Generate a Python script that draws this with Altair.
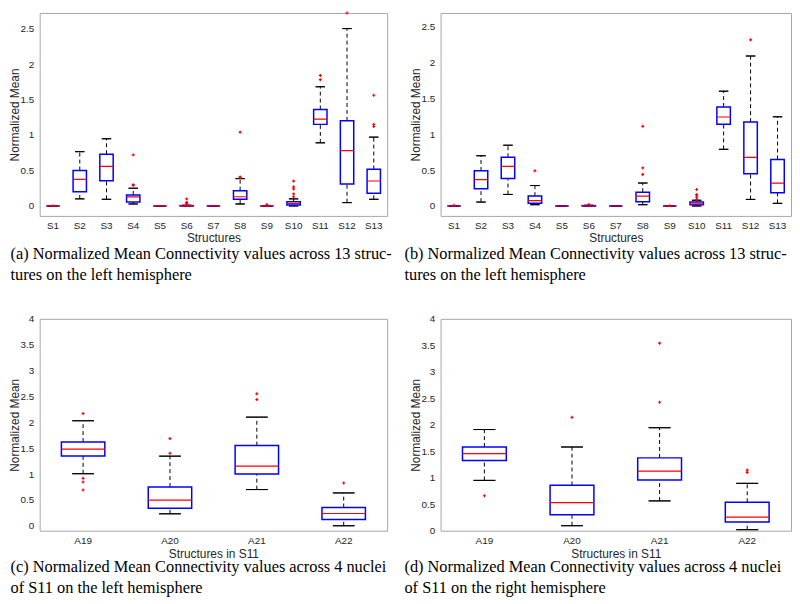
import altair as alt
import pandas as pd

# ---------------- Panel (a): 13 structures, left hemisphere ----------------
a_names = ["S1", "S2", "S3", "S4", "S5", "S6", "S7", "S8", "S9", "S10", "S11", "S12", "S13"]
a_q1 = [0.0, 0.20, 0.356, 0.056, 0.0, 0.0, 0.0, 0.094, 0.0, 0.015, 1.15, 0.31, 0.178]
a_med = [0.0, 0.375, 0.558, 0.127, 0.0, 0.0, 0.0, 0.13, 0.0, 0.035, 1.224, 0.78, 0.352]
a_q3 = [0.0, 0.50, 0.73, 0.155, 0.0, 0.005, 0.0, 0.216, 0.0, 0.06, 1.36, 1.20, 0.516]
a_lo = [0.0, 0.10, 0.094, 0.028, 0.0, 0.0, 0.0, 0.028, 0.0, 0.0, 0.89, 0.047, 0.094]
a_hi = [0.0, 0.765, 0.947, 0.25, 0.0, 0.01, 0.0, 0.385, 0.0, 0.10, 1.68, 2.50, 0.97]
a_out = [[0.005], [], [], [0.72, 0.30, 0.29], [], [0.10, 0.05, 0.04, 0.03], [],
         [1.04, 0.41, 0.40], [0.02], [0.35, 0.27, 0.24, 0.17, 0.13], [1.84, 1.78],
         [2.72], [1.56, 1.15, 1.12]]

# ---------------- Panel (b): 13 structures ----------------
b_names = a_names
b_q1 = [0.0, 0.24, 0.382, 0.037, 0.0, 0.0, 0.0, 0.06, 0.0, 0.018, 1.14, 0.45, 0.184]
b_med = [0.0, 0.368, 0.552, 0.074, 0.0, 0.0, 0.0, 0.138, 0.0, 0.03, 1.24, 0.677, 0.318]
b_q3 = [0.0, 0.49, 0.68, 0.138, 0.0, 0.005, 0.0, 0.193, 0.0, 0.055, 1.38, 1.17, 0.649]
b_lo = [0.0, 0.055, 0.161, 0.018, 0.0, 0.0, 0.0, 0.018, 0.0, 0.0, 0.79, 0.092, 0.037]
b_hi = [0.0, 0.70, 0.847, 0.285, 0.0, 0.01, 0.0, 0.32, 0.0, 0.08, 1.60, 2.09, 1.243]
b_out = [[0.01], [], [], [0.49], [], [0.02], [], [1.11, 0.53, 0.44], [0.005],
         [0.23, 0.16, 0.14, 0.115, 0.09], [], [2.316], []]

# ---------------- Panel (c): 4 nuclei of S11, left hemisphere ----------------
c_names = ["A19", "A20", "A21", "A22"]
c_q1 = [1.35, 0.34, 1.0, 0.122]
c_med = [1.48, 0.494, 1.154, 0.237]
c_q3 = [1.62, 0.75, 1.55, 0.353]
c_lo = [1.006, 0.231, 0.70, 0.0]
c_hi = [2.03, 1.346, 2.10, 0.635]
c_out = [[2.17, 0.917, 0.846, 0.692], [1.686, 1.40], [2.55, 2.44], [0.827]]

# ---------------- Panel (d): 4 nuclei of S11, right hemisphere ----------------
d_names = c_names
d_q1 = [1.325, 0.30, 0.956, 0.1625]
d_med = [1.456, 0.531, 1.125, 0.256]
d_q3 = [1.58, 0.856, 1.375, 0.5375]
d_lo = [0.95, 0.094, 0.5625, 0.019]
d_hi = [1.91, 1.58, 1.944, 0.894]
d_out = [[0.66], [2.14], [3.54, 2.425], [1.144, 1.10]]

y_ticks_ab = [0, 0.5, 1, 1.5, 2, 2.5]
y_ticks_cd = [0, 0.5, 1, 1.5, 2, 2.5, 3, 3.5, 4]

cap_a = ["(a) Normalized Mean Connectivity values across 13 struc-", "tures on the left hemisphere"]
cap_b = ["(b) Normalized Mean Connectivity values across 13 struc-", "tures on the left hemisphere"]
cap_c = ["(c) Normalized Mean Connectivity values across 4 nuclei", "of S11 on the left hemisphere"]
cap_d = ["(d) Normalized Mean Connectivity values across 4 nuclei", "of S11 on the right hemisphere"]

SANS = "Liberation Sans"
SERIF = "Liberation Serif"


def panel(names, q1, med, q3, lo, hi, outs, ydom, yvals, xtitle, caption,
          cap_frac, w, h, cap_offset, cap_dx, xtpad):
    stats = pd.DataFrame(dict(name=names, q1=q1, med=med, q3=q3, lo=lo, hi=hi))
    outdf = pd.DataFrame([(n, v) for n, vs in zip(names, outs) for v in vs],
                         columns=["name", "v"])
    xax = alt.Axis(title=xtitle, labelAngle=0, labelPadding=5, titlePadding=xtpad)
    x = alt.X("name:N", sort=names,
              scale=alt.Scale(paddingInner=0, paddingOuter=0), axis=xax)
    ysc = alt.Scale(domain=ydom, nice=False, zero=False)
    yax = alt.Axis(title="Normalized Mean", values=yvals, format="~g",
                   labelPadding=6, titlePadding=-2)
    base = alt.Chart(stats)
    up = base.mark_rule(color="black", strokeDash=[4, 3], strokeWidth=1).encode(
        x=x, y=alt.Y("q3:Q", scale=ysc, axis=yax), y2="hi:Q")
    dn = base.mark_rule(color="black", strokeDash=[4, 3], strokeWidth=1).encode(
        x=x, y=alt.Y("lo:Q", scale=ysc, axis=yax), y2="q1:Q")
    caphi = base.mark_bar(width=alt.RelativeBandSize(cap_frac), fillOpacity=0,
                          stroke="black", strokeWidth=1).encode(
        x=x, y=alt.Y("hi:Q", scale=ysc, axis=yax), y2="hi:Q")
    caplo = base.mark_bar(width=alt.RelativeBandSize(cap_frac), fillOpacity=0,
                          stroke="black", strokeWidth=1).encode(
        x=x, y=alt.Y("lo:Q", scale=ysc, axis=yax), y2="lo:Q")
    box = base.mark_bar(width=alt.RelativeBandSize(0.5), fillOpacity=0,
                        stroke="#0000ff", strokeWidth=1.5).encode(
        x=x, y=alt.Y("q1:Q", scale=ysc, axis=yax), y2="q3:Q")
    mline = base.mark_bar(width=alt.RelativeBandSize(0.5), fillOpacity=0,
                          stroke="#ff0000", strokeWidth=1.2).encode(
        x=x, y=alt.Y("med:Q", scale=ysc, axis=yax), y2="med:Q")
    pts = alt.Chart(outdf).mark_point(shape="cross", filled=True, size=9,
                                      color="#ff0000", opacity=1).encode(
        x=x, y=alt.Y("v:Q", scale=ysc, axis=yax))
    return alt.layer(up, dn, caphi, caplo, box, mline, pts).properties(
        width=w, height=h,
        title=alt.TitleParams(text=caption, orient="bottom", anchor="start",
                              frame="group", dx=cap_dx, offset=cap_offset,
                              font=SERIF, fontSize=16.5, fontWeight="normal",
                              color="black", lineHeight=21.5))


pa = panel(a_names, a_q1, a_med, a_q3, a_lo, a_hi, a_out, [-0.14, 2.72], y_ticks_ab,
           "Structures", cap_a, 0.35, 351, 205, 3, -29.5, 1.5)
pb = panel(b_names, b_q1, b_med, b_q3, b_lo, b_hi, b_out, [-0.138, 2.69], y_ticks_ab,
           "Structures", cap_b, 0.35, 354, 205, 3, -36.5, 1.5)
pc = panel(c_names, c_q1, c_med, c_q3, c_lo, c_hi, c_out, [-0.095, 4], y_ticks_cd,
           "Structures in S11", cap_c, 0.25, 351, 214, -1, -29.5, 3.5)
pd_ = panel(d_names, d_q1, d_med, d_q3, d_lo, d_hi, d_out, [0, 4], y_ticks_cd,
            "Structures in S11", cap_d, 0.25, 354, 214, -1, -36.5, 3.5)

chart = alt.concat(pa, pb, pc, pd_, columns=2,
                   spacing={"row": 104, "column": 54},
                   bounds="flush", align="each").properties(
    padding={"left": 0, "top": 0, "right": 0, "bottom": 0}
).configure_view(stroke="#a6a6a6", strokeWidth=1).configure_axis(
    domain=False, ticks=False, grid=False,
    labelFont=SANS, labelFontSize=10, labelColor="#262626",
    titleFont=SANS, titleFontSize=12, titleFontWeight="normal", titleColor="#262626"
)

chart.save("out.html", embed_options={"renderer": "svg", "actions": False})
